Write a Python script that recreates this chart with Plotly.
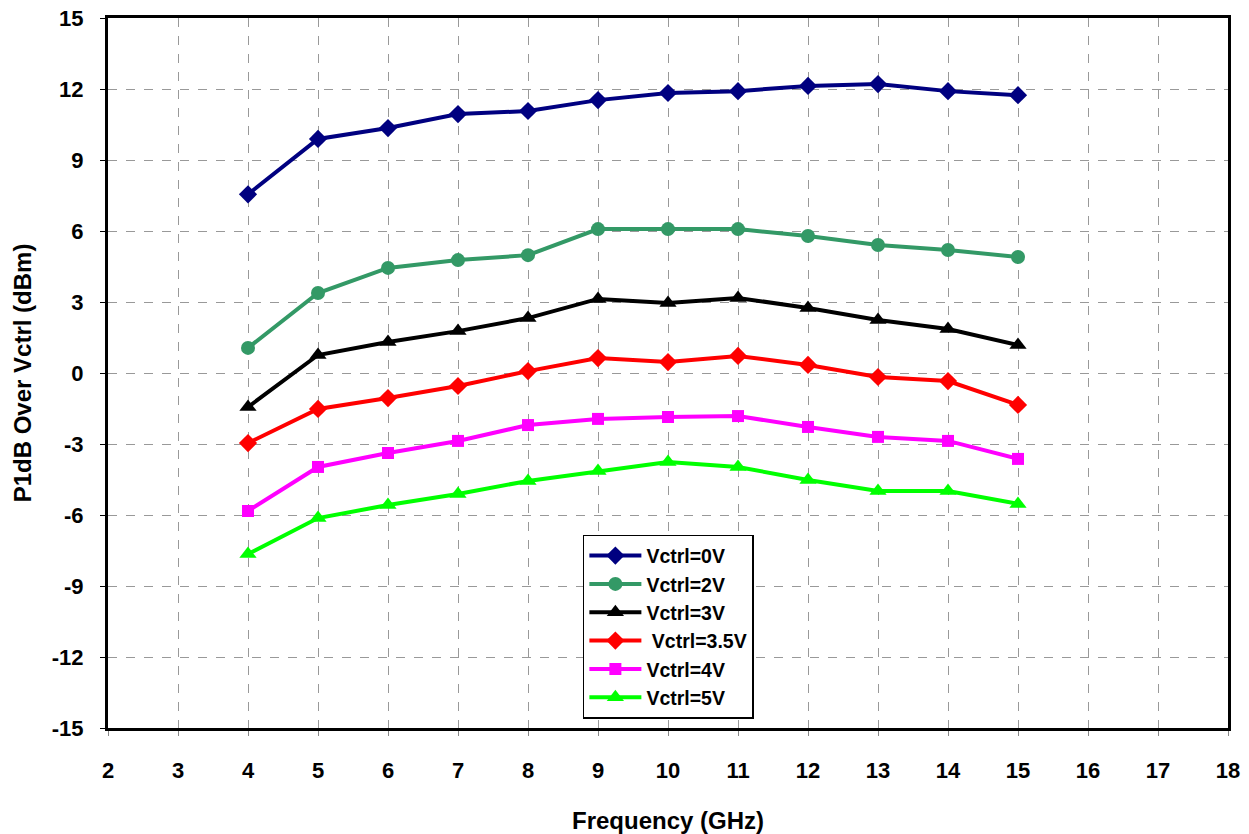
import plotly.graph_objects as go

freq = [4, 5, 6, 7, 8, 9, 10, 11, 12, 13, 14, 15]
v0 = [7.55, 9.89, 10.35, 10.94, 11.07, 11.53, 11.83, 11.91, 12.13, 12.21, 11.91, 11.74]
v2 = [1.06, 3.38, 4.44, 4.77, 4.98, 6.08, 6.08, 6.08, 5.79, 5.41, 5.20, 4.90]
v3 = [-1.44, 0.76, 1.31, 1.77, 2.32, 3.13, 2.96, 3.17, 2.75, 2.24, 1.86, 1.18]
v35 = [-2.96, -1.52, -1.06, -0.55, 0.08, 0.63, 0.46, 0.72, 0.34, -0.17, -0.34, -1.35]
v4 = [-5.83, -3.97, -3.38, -2.87, -2.20, -1.94, -1.86, -1.82, -2.28, -2.70, -2.87, -3.63]
v5 = [-7.65, -6.13, -5.58, -5.11, -4.56, -4.14, -3.76, -3.97, -4.52, -4.99, -4.99, -5.53]

y_tickvals = [-15, -12, -9, -6, -3, 0, 3, 6, 9, 12, 15]
y_ticktext = ["-15", "-12", "-9", "-6", "-3", "0", "3", "6", "9", "12", "15"]

names = ["Vctrl=0V", "Vctrl=2V", "Vctrl=3V", " Vctrl=3.5V", "Vctrl=4V", "Vctrl=5V"]
series = [v0, v2, v3, v35, v4, v5]
colors = ["#000080", "#339966", "#000000", "#FF0000", "#FF00FF", "#00FF00"]
symbols = ["diamond", "circle", "triangle-up", "diamond", "square", "triangle-up"]
sizes = [14, 14, 15, 14, 12, 15]

FONT = "Liberation Sans, Arial"

fig = go.Figure()
for n, s, c, sym, sz in zip(names, series, colors, symbols, sizes):
    fig.add_trace(go.Scatter(
        x=freq, y=s, name=n, mode="lines+markers",
        line=dict(color=c, width=4),
        marker=dict(symbol=sym, size=sz, color=c),
    ))

fig.update_layout(
    width=1249, height=834,
    margin=dict(l=108, r=21, t=18, b=106, autoexpand=False),
    paper_bgcolor="white", plot_bgcolor="white",
    font=dict(family=FONT, color="black"),
    legend=dict(
        x=0.424, y=0.272, xanchor="left", yanchor="top",
        bgcolor="white", bordercolor="black", borderwidth=1.5,
        font=dict(family=FONT, size=19.5, color="black", weight="bold"),
        tracegroupgap=0, itemwidth=52,
    ),
    showlegend=True,
)
fig.update_xaxes(
    range=[2, 18], dtick=1, tick0=2, automargin=False,
    showgrid=True, gridcolor="#999999", griddash="dash", gridwidth=1,
    showline=True, linecolor="black", linewidth=3, mirror=True,
    ticks="outside", ticklen=5, tickcolor="#888888",
    ticklabelstandoff=16, ticklabeloverflow="allow",
    tickfont=dict(family=FONT, size=22, color="black", weight="bold"),
    title=dict(text="Frequency (GHz)", font=dict(family=FONT, size=24, color="black", weight="bold"), standoff=34),
    zeroline=False,
)
fig.update_yaxes(
    range=[-15, 15], tickmode="array", tickvals=y_tickvals, ticktext=y_ticktext,
    automargin=False,
    showgrid=True, gridcolor="#999999", griddash="dash", gridwidth=1,
    showline=True, linecolor="black", linewidth=3, mirror=True,
    ticks="outside", ticklen=5, tickcolor="black",
    ticklabelstandoff=12, ticklabeloverflow="allow",
    tickfont=dict(family=FONT, size=22, color="black", weight="bold"),
    title=dict(text="P1dB Over Vctrl (dBm)", font=dict(family=FONT, size=24, color="black", weight="bold"), standoff=14),
    zeroline=False,
)
fig.write_html(
    "out.html",
    config={"displayModeBar": False},
    post_script="document.body.style.margin='0';document.body.style.overflow='hidden';",
)
